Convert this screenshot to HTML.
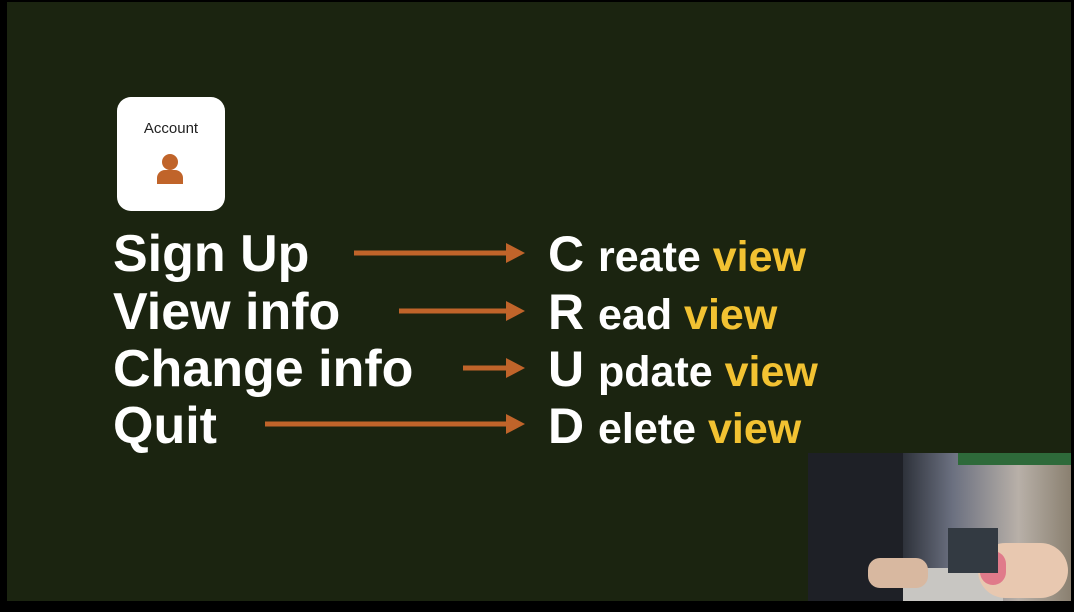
<!DOCTYPE html>
<html><head><style>
body{margin:0;width:1074px;height:612px;background:#000;overflow:hidden;position:relative;font-family:"Liberation Sans",sans-serif}
#bg{position:absolute;left:7px;top:2px;width:1064px;height:599px;background:#1b2410}
.t{position:absolute;color:#fff;font-weight:bold;white-space:nowrap;line-height:1}
.l{font-size:52px;left:113px}
.r{left:548px;font-size:50px}
.r span{font-size:43px}
.y{color:#f2c232}
svg{position:absolute;left:0;top:0}
</style></head><body>
<div id="bg"></div>
<div style="position:absolute;left:117px;top:97px;width:108px;height:114px;background:#fff;border-radius:14px"></div>
<div class="t" style="left:117px;width:108px;text-align:center;top:121px;font-size:15px;color:#222;font-weight:normal">Account</div>
<div class="t l" style="top:228px">Sign Up</div>
<div class="t l" style="top:286px">View info</div>
<div class="t l" style="top:343px">Change info</div>
<div class="t l" style="top:400px">Quit</div>
<div class="t r" style="top:229px">C <span>reate <span class="y">view</span></span></div>
<div class="t r" style="top:287px">R <span>ead <span class="y">view</span></span></div>
<div class="t r" style="top:344px">U <span>pdate <span class="y">view</span></span></div>
<div class="t r" style="top:401px">D <span>elete <span class="y">view</span></span></div>
<svg width="1074" height="612">
<circle cx="170" cy="162" r="8" fill="#c0642a"/>
<path d="M157 184 v-6 a8 8 0 0 1 8 -8 h10 a8 8 0 0 1 8 8 v6 z" fill="#c0642a"/>
<g stroke="#c0642a" stroke-width="5" fill="#c0642a">
<line x1="354" y1="253" x2="508" y2="253"/><polygon points="506,243 525,253 506,263" stroke="none"/>
<line x1="399" y1="311" x2="508" y2="311"/><polygon points="506,301 525,311 506,321" stroke="none"/>
<line x1="463" y1="368" x2="508" y2="368"/><polygon points="506,358 525,368 506,378" stroke="none"/>
<line x1="265" y1="424" x2="508" y2="424"/><polygon points="506,414 525,424 506,434" stroke="none"/>
</g>
</svg>
<div style="position:absolute;left:808px;top:453px;width:263px;height:148px;overflow:hidden;background:linear-gradient(90deg,#22252c 0%,#2a2e36 35%,#6b7080 55%,#b8b0a8 80%,#8a8070 100%)">
<div style="position:absolute;left:0;top:0;width:95px;height:148px;background:#1e2026"></div>
<div style="position:absolute;left:150px;top:0;width:113px;height:12px;background:#2e6a3a"></div>
<div style="position:absolute;left:95px;top:115px;width:100px;height:33px;background:#c8c6c2"></div>
<div style="position:absolute;left:60px;top:105px;width:60px;height:30px;border-radius:12px;background:#d8b8a0"></div>
<div style="position:absolute;left:170px;top:90px;width:90px;height:55px;border-radius:30px;background:#e8c8b0"></div>
<div style="position:absolute;left:172px;top:98px;width:26px;height:34px;border-radius:13px;background:#e07a8a"></div>
<div style="position:absolute;left:140px;top:75px;width:50px;height:45px;background:#333a42"></div>
</div>
</body></html>
